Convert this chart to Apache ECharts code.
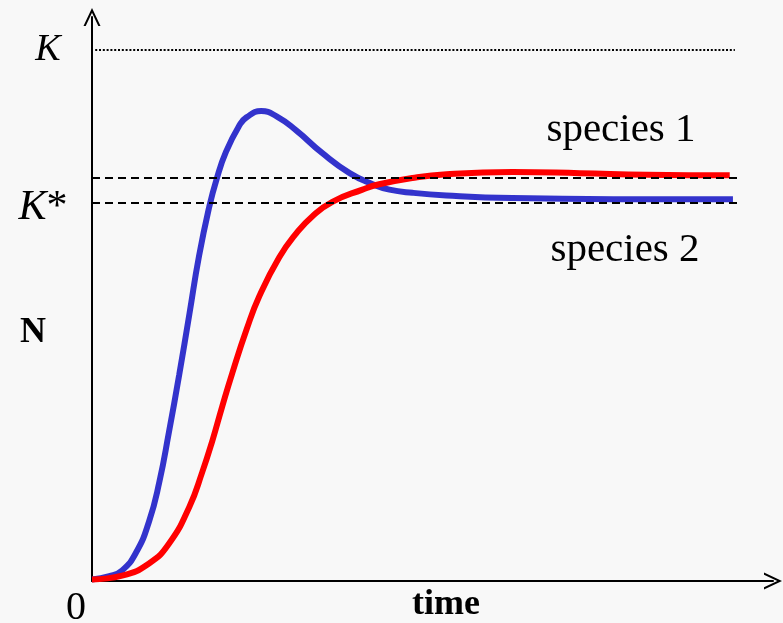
<!DOCTYPE html>
<html>
<head>
<meta charset="utf-8">
<script src="https://cdn.jsdelivr.net/npm/echarts@6/dist/echarts.min.js"></script>
<style>
html,body{margin:0;padding:0;background:#f8f8f8;}
#chart{width:783px;height:623px;}
</style>
</head>
<body>
<div id="chart"></div>
<script>
// time (0..100) and population N (K = 100)
const speciesNames = ['species 1', 'species 2'];
const K = 100;
const K1 = 75.9;   // equilibrium of species 1
const Kstar = 71.2; // K*
const timeMax = 100;

// species 2 (blue) : [time, N]
const blueSeries = [
  [0, 0.3], [2.7, 0.9], [4.7, 2.0], [6.9, 5.4], [8.9, 11.2], [10.5, 18.6],
  [12.0, 28.0], [13.6, 38.8], [15.2, 50.3], [16.7, 61.2], [18.3, 70.5],
  [19.4, 75.5], [20.9, 80.8], [23.0, 85.8], [24.1, 87.3], [26.4, 88.5],
  [28.8, 87.5], [31.9, 84.8], [35.9, 80.6], [40.2, 76.8], [43.8, 74.7],
  [46.4, 73.7], [50.0, 73.1], [55.3, 72.6], [65.6, 72.1], [81.3, 71.9], [100, 71.9]
];
// species 1 (red) : [time, N]
const redSeries = [
  [0, 0.3], [4.7, 1.0], [8.9, 3.3], [12.0, 7.0], [15.2, 14.0], [17.2, 20.5],
  [18.8, 26.5], [20.3, 32.8], [21.9, 39.2], [24.1, 47.3], [26.1, 53.6],
  [29.2, 60.9], [31.9, 65.5], [34.4, 68.7], [37.5, 71.4], [42.2, 73.7],
  [44.8, 74.7], [50.0, 75.9], [55.3, 76.6], [65.6, 77.0], [76.1, 76.8],
  [86.6, 76.5], [99.5, 76.4]
];

const chevron = 'path://M85,0 L170,180 L148,180 L85,47 L22,180 L0,180 Z';
const serif = '"Liberation Serif", "Times New Roman", serif';

const chart = echarts.init(document.getElementById('chart'));
chart.setOption({
  backgroundColor: '#f8f8f8',
  animation: false,
  grid: { left: 92, right: 10, top: 17, bottom: 42 },
  xAxis: {
    type: 'value', min: 0, max: 106.25,
    axisLine: { show: true, lineStyle: { color: '#000', width: 2 }, symbol: ['none', chevron], symbolSize: [17, 18] },
    axisTick: { show: false }, axisLabel: { show: false }, splitLine: { show: false }
  },
  yAxis: {
    type: 'value', min: 0, max: 106.2,
    axisLine: { show: true, lineStyle: { color: '#000', width: 2 }, symbol: ['none', chevron], symbolSize: [17, 18] },
    axisTick: { show: false }, axisLabel: { show: false }, splitLine: { show: false }
  },
  series: [
    {
      name: speciesNames[1], type: 'line', data: blueSeries, smooth: 0.5, showSymbol: false, clip: false,
      lineStyle: { color: '#3333cc', width: 6, cap: 'butt' }, z: 3,
      markLine: {
        silent: true, symbol: ['none', 'none'], label: { show: false }, animation: false,
        data: [
          [{ coord: [0.5, K], lineStyle: { type: [2, 1.8], width: 2, color: '#000' } }, { coord: [timeMax + 0.3, K] }],
          [{ coord: [0, K1], lineStyle: { type: [8, 5], width: 1.8, color: '#000' } }, { coord: [timeMax + 1.1, K1] }],
          [{ coord: [0, Kstar], lineStyle: { type: [8, 5], width: 1.8, color: '#000' } }, { coord: [timeMax + 1.1, Kstar] }]
        ]
      }
    },
    {
      name: speciesNames[0], type: 'line', data: redSeries, smooth: 0.5, showSymbol: false,
      lineStyle: { color: '#ff0000', width: 6, cap: 'butt' }, z: 4
    }
  ],
  graphic: [
    { type: 'text', style: { text: 'K', x: 48, y: 50, font: 'italic 38px ' + serif, fill: '#000', textAlign: 'center', textVerticalAlign: 'middle' } },
    { type: 'text', style: { text: '{k|K}*', x: 43, y: 208, font: '42px ' + serif, fill: '#000', textAlign: 'center', textVerticalAlign: 'middle',
      rich: { k: { fontStyle: 'italic', fontSize: 42, fontFamily: serif } } } },
    { type: 'text', style: { text: 'N', x: 33, y: 333, font: 'bold 36px ' + serif, fill: '#000', textAlign: 'center', textVerticalAlign: 'middle' } },
    { type: 'text', style: { text: '0', x: 76, y: 608, font: '40px ' + serif, fill: '#000', textAlign: 'center', textVerticalAlign: 'middle' } },
    { type: 'text', style: { text: 'time', x: 446, y: 605, font: 'bold 36px ' + serif, fill: '#000', textAlign: 'center', textVerticalAlign: 'middle' } },
    { type: 'text', style: { text: speciesNames[0], x: 621, y: 130, font: '41px ' + serif, fill: '#000', textAlign: 'center', textVerticalAlign: 'middle' } },
    { type: 'text', style: { text: speciesNames[1], x: 625, y: 250, font: '41px ' + serif, fill: '#000', textAlign: 'center', textVerticalAlign: 'middle' } }
  ]
});
</script>
</body>
</html>
